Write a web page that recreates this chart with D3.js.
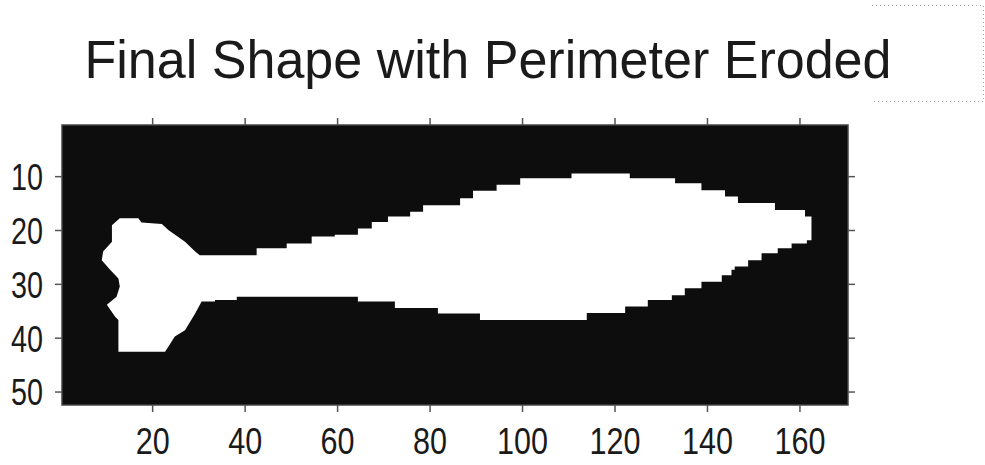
<!DOCTYPE html>
<html>
<head>
<meta charset="utf-8">
<script src="https://cdn.jsdelivr.net/npm/d3@7"></script>
<style>
  html, body { margin: 0; padding: 0; background: #fff; }
  svg { display: block; }
</style>
</head>
<body>
<svg id="chart" width="985" height="465"></svg>
<script>
// ---- data ----
const titleText = "Final Shape with Perimeter Eroded";
const imageCols = 170;   // image width in pixels
const imageRows = 52;    // image height in pixels
const xTicks = [20, 40, 60, 80, 100, 120, 140, 160];
const yTicks = [10, 20, 30, 40, 50];

// Outline of the white region (image column, image row), traced clockwise
const shapeX = [
  11.3, 13.0, 17.0, 17.7, 22.1, 23.5, 27.1, 29.3, 30.3,
  42.6, 42.6, 49.1, 49.1, 54.5, 54.5, 59.5, 59.5, 64.5, 64.5, 67.5, 67.5, 71.0, 71.0,
  75.8, 75.8, 78.6, 78.6, 86.6, 86.6, 89.4, 89.4, 94.5, 94.5, 99.6, 99.6, 110.7, 110.7,
  123.3, 123.3, 133.1, 133.1, 138.8, 138.8, 143.9, 143.9, 146.7, 146.7, 154.7, 154.7,
  161.2, 161.2, 162.6,
  162.6, 161.6, 161.6, 158.3, 158.3, 155.3, 155.3, 151.8, 151.8, 148.9, 148.9, 146.0,
  146.0, 145.3, 145.3, 143.2, 143.2, 138.8, 138.8, 135.2, 135.2, 132.4, 132.4, 127.2,
  127.2, 122.3, 122.3, 114.0, 114.0, 90.9, 90.9, 81.8, 81.8, 72.5, 72.5, 64.5, 64.5,
  38.3, 38.3, 33.6, 33.6, 30.7,
  29.3, 27.1, 24.9, 22.8, 12.7, 12.7, 12.0, 10.2, 12.3, 13.0, 12.7, 10.9, 9.1, 9.4, 11.3
];
const shapeY = [
  19.1, 17.8, 17.8, 18.6, 18.9, 20.0, 22.2, 24.0, 24.7,
  24.7, 23.4, 23.4, 22.5, 22.5, 21.2, 21.2, 20.9, 20.9, 19.7, 19.7, 18.5, 18.5, 17.5,
  17.5, 16.6, 16.6, 15.4, 15.4, 14.1, 14.1, 12.7, 12.7, 11.6, 11.6, 10.4, 10.4, 9.5,
  9.5, 10.4, 10.4, 11.3, 11.3, 12.6, 12.6, 13.8, 13.8, 15.0, 15.0, 16.3,
  16.3, 17.5, 17.5,
  21.9, 21.9, 22.5, 22.5, 23.4, 23.4, 24.3, 24.3, 25.6, 25.6, 26.8, 26.8,
  27.4, 27.4, 28.4, 28.4, 29.6, 29.6, 30.8, 30.8, 32.1, 32.1, 33.0, 33.0,
  34.2, 34.2, 35.4, 35.4, 36.7, 36.7, 35.5, 35.5, 34.5, 34.5, 33.3, 33.3, 32.4,
  32.4, 33.0, 33.0, 33.3, 33.3,
  35.5, 38.6, 39.8, 42.6, 42.6, 36.7, 36.1, 33.9, 32.4, 30.5, 29.0, 27.4, 25.6, 24.0, 22.2
];

// ---- layout ----
const svg = d3.select("#chart");
const plot = { left: 62, right: 848, top: 125, bottom: 405 };

const x = d3.scaleLinear().domain([0.5, imageCols + 0.5]).range([plot.left, plot.right]);
const y = d3.scaleLinear().domain([0.5, imageRows + 0.5]).range([plot.top, plot.bottom]);

// background (black image)
svg.append("rect")
  .attr("x", x(0.5)).attr("y", y(0.5))
  .attr("width", x(imageCols + 0.5) - x(0.5))
  .attr("height", y(imageRows + 0.5) - y(0.5))
  .attr("fill", "#0d0d0d");

// white shape
const pts = shapeX.map((v, i) => [v, shapeY[i]]);
const line = d3.line().x(d => x(d[0])).y(d => y(d[1]));
svg.append("path")
  .attr("d", line(pts) + "Z")
  .attr("fill", "#ffffff");

// frame
svg.append("rect")
  .attr("x", x(0.5)).attr("y", y(0.5))
  .attr("width", x(imageCols + 0.5) - x(0.5))
  .attr("height", y(imageRows + 0.5) - y(0.5))
  .attr("fill", "none").attr("stroke", "#444").attr("stroke-width", 1.5);

const fontFam = "'Liberation Sans', Arial, sans-serif";

// axes
const tickLen = 7;
const gTop = svg.append("g").attr("transform", `translate(0,${plot.top})`)
  .call(d3.axisTop(x).tickValues(xTicks).tickSize(tickLen).tickFormat(""));
const gBottom = svg.append("g").attr("transform", `translate(0,${plot.bottom})`)
  .call(d3.axisBottom(x).tickValues(xTicks).tickSize(tickLen));
const gLeft = svg.append("g").attr("transform", `translate(${plot.left},0)`)
  .call(d3.axisLeft(y).tickValues(yTicks).tickSize(tickLen));
const gRight = svg.append("g").attr("transform", `translate(${plot.right},0)`)
  .call(d3.axisRight(y).tickValues(yTicks).tickSize(tickLen).tickFormat(""));

[gTop, gBottom, gLeft, gRight].forEach(g => {
  g.select(".domain").remove();
  g.selectAll(".tick line").attr("stroke", "#555").attr("stroke-width", 1.5);
});

gBottom.selectAll(".tick text")
  .attr("y", 49).attr("dy", 0)
  .attr("font-family", fontFam).attr("font-size", 37).attr("fill", "#1a1a1a")
  .attr("textLength", d => String(d).length * 17)
  .attr("lengthAdjust", "spacingAndGlyphs");

gLeft.selectAll(".tick text")
  .attr("x", -19).attr("dy", "0.36em")
  .attr("font-family", fontFam).attr("font-size", 37).attr("fill", "#1a1a1a")
  .attr("textLength", d => String(d).length * 16)
  .attr("lengthAdjust", "spacingAndGlyphs");

// title
svg.append("text")
  .attr("x", 488).attr("y", 78)
  .attr("text-anchor", "middle")
  .attr("font-family", fontFam).attr("font-size", 54).attr("fill", "#1a1a1a")
  .attr("textLength", 807).attr("lengthAdjust", "spacingAndGlyphs")
  .text(titleText);

// dotted frame at top-right
svg.append("path")
  .attr("d", "M872,5.5H983.5V101.5H872")
  .attr("fill", "none").attr("stroke", "#aaa").attr("stroke-width", 1)
  .attr("stroke-dasharray", "1,3");
</script>
</body>
</html>
